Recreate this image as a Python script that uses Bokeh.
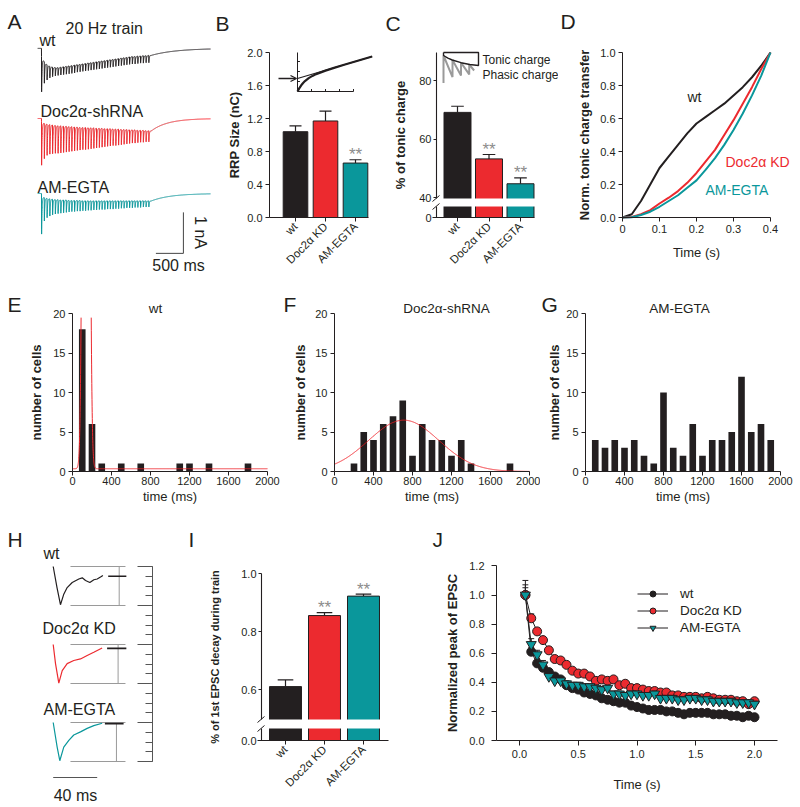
import math
import numpy as np
from bokeh.plotting import figure
from bokeh.layouts import row, column
from bokeh.models import (Range1d, Label, FixedTicker, SingleIntervalTicker, LinearAxis,
                          CustomJSTickFormatter, Arrow, OpenHead, Legend, LegendItem)
from bokeh.core.properties import value
from bokeh.embed import file_html
from bokeh.resources import INLINE

FONT = "Liberation Sans"
INK = "#231f20"
RED = "#ec2a2f"
TEAL = "#0a979b"
STAR = "#8c8c8c"
BOXGRAY = "#9a9a9a"

# ------------------------------------------------------------------ data
CATS = ["wt", "Doc2α KD", "AM-EGTA"]
BAR_COLORS = [INK, RED, TEAL]

# A: 20 Hz train, 40 stimuli; EPSC peak depth and tonic (between-stimulus) level, nA
A_STIM_MS = 50
A_WT_PEAK = [1.06, 0.85, 0.77, 0.72, 0.69, 0.67, 0.66, 0.65, 0.64, 0.63, 0.62, 0.61, 0.60, 0.58, 0.57, 0.56, 0.55, 0.54, 0.53, 0.52,
             0.51, 0.50, 0.49, 0.48, 0.47, 0.46, 0.45, 0.44, 0.43, 0.42, 0.41, 0.40, 0.39, 0.38, 0.38, 0.37, 0.36, 0.36, 0.35, 0.35]
A_WT_TONIC = [0.20, 0.33, 0.40, 0.44, 0.46, 0.47, 0.47, 0.46, 0.45, 0.44, 0.43, 0.42, 0.41, 0.40, 0.39, 0.38, 0.37, 0.36, 0.35, 0.34,
              0.33, 0.32, 0.31, 0.30, 0.29, 0.28, 0.27, 0.26, 0.25, 0.24, 0.23, 0.22, 0.21, 0.20, 0.20, 0.19, 0.19, 0.18, 0.18, 0.17]
A_RED_PEAK = [1.14, 0.98, 0.90, 0.87, 0.86, 0.85, 0.85, 0.84, 0.83, 0.82, 0.81, 0.80, 0.79, 0.78, 0.77, 0.76, 0.76, 0.75, 0.74, 0.73,
              0.72, 0.71, 0.70, 0.69, 0.68, 0.67, 0.66, 0.66, 0.65, 0.64, 0.63, 0.62, 0.61, 0.60, 0.60, 0.59, 0.58, 0.58, 0.57, 0.57]
A_RED_TONIC = [0.08, 0.12, 0.14, 0.15, 0.16, 0.17, 0.18, 0.18, 0.19, 0.19, 0.20, 0.20, 0.21, 0.21, 0.22, 0.22, 0.22, 0.23, 0.23, 0.23,
               0.24, 0.24, 0.24, 0.25, 0.25, 0.25, 0.26, 0.26, 0.26, 0.27, 0.27, 0.27, 0.28, 0.28, 0.28, 0.29, 0.29, 0.29, 0.30, 0.30]
A_TEAL_PEAK = [0.99, 0.67, 0.59, 0.55, 0.52, 0.50, 0.49, 0.48, 0.47, 0.46, 0.45, 0.44, 0.44, 0.43, 0.43, 0.42, 0.42, 0.41, 0.41, 0.40,
               0.40, 0.39, 0.39, 0.39, 0.38, 0.38, 0.38, 0.37, 0.37, 0.36, 0.36, 0.35, 0.35, 0.35, 0.34, 0.34, 0.34, 0.33, 0.33, 0.33]
A_TEAL_TONIC = [0.06, 0.10, 0.12, 0.13, 0.14, 0.15, 0.15, 0.16, 0.16, 0.16, 0.17, 0.17, 0.17, 0.17, 0.17, 0.18, 0.18, 0.18, 0.18, 0.18,
                0.18, 0.18, 0.18, 0.18, 0.18, 0.18, 0.18, 0.18, 0.18, 0.18, 0.18, 0.18, 0.18, 0.18, 0.18, 0.18, 0.18, 0.18, 0.18, 0.18]
A_POST_TAU = [450, 300, 350]
A_OFFSETS = [5.54, 3.83, 2.0]
A_SCALE_T_END = 2580
A_SCALE_Y = 0.54

# B: RRP size (nC)
RRP_MEAN = [1.04, 1.17, 0.66]
RRP_SEM = [0.07, 0.12, 0.04]
RRP_SIG = ["", "", "**"]
INSET_N = [0, 1, 2, 3, 4, 6, 8, 10, 15, 20, 25, 30, 35, 40]
INSET_CUM = [0, 0.34, 0.62, 0.85, 1.04, 1.34, 1.56, 1.74, 2.09, 2.39, 2.67, 2.95, 3.23, 3.5]
INSET_FIT_N = [0, 40]
INSET_FIT = [1.3, 3.5]

# C: % tonic charge
TONIC_MEAN = [69.1, 53.2, 44.7]
TONIC_SEM = [2.1, 1.5, 2.0]
TONIC_SIG = ["", "**", "**"]
C_TONIC_X = [0, 0.5, 1, 2, 3, 4]
C_TONIC_Y = [0.90, 0.81, 0.75, 0.66, 0.60, 0.567]
C_PHASIC_X = [0, 0, 1.03, 1.03, 2.0, 2.0, 2.94, 2.94, 3.5]
C_PHASIC_Y = [-0.02, 0.90, 0.18, 0.75, 0.23, 0.66, 0.27, 0.60, 0.40]

# D: normalized tonic charge transfer
D_TIME = [0, 0.025, 0.05, 0.075, 0.1, 0.125, 0.15, 0.175, 0.2, 0.225, 0.25, 0.275, 0.3, 0.325, 0.35, 0.375, 0.4]
D_WT = [0, 0.02, 0.10, 0.20, 0.30, 0.37, 0.44, 0.51, 0.57, 0.61, 0.65, 0.69, 0.74, 0.79, 0.85, 0.92, 1.0]
D_KD = [0, 0.003, 0.02, 0.045, 0.085, 0.12, 0.16, 0.21, 0.27, 0.34, 0.41, 0.50, 0.59, 0.69, 0.79, 0.90, 1.0]
D_EGTA = [0, 0.002, 0.015, 0.035, 0.065, 0.10, 0.135, 0.18, 0.225, 0.29, 0.36, 0.44, 0.53, 0.63, 0.74, 0.86, 1.0]

# E, F, G: histograms (number of cells vs time, ms)
E_BINS = [100, 200, 300, 500, 700, 1100, 1200, 1400, 1800]
E_COUNTS = [18, 6, 1, 1, 1, 1, 1, 1, 1]
E_FIT = dict(amp=200.0, mu=140.0, sigma=24.0, base=0.35)
F_BINS = [200, 300, 400, 500, 600, 700, 800, 900, 1000, 1100, 1200, 1300, 1400, 1800]
F_COUNTS = [1, 5, 4, 6, 7, 9, 2, 6, 4, 4, 2, 4, 1, 1]
F_FIT = dict(amp=6.5, mu=710.0, sigma=360.0, base=0.0)
G_BINS = [100, 200, 300, 400, 500, 600, 700, 800, 900, 1000, 1100, 1200, 1300, 1400, 1500, 1600, 1700, 1800, 1900]
G_COUNTS = [4, 3, 4, 3, 4, 2, 1, 10, 3, 2, 6, 2, 4, 4, 5, 12, 5, 6, 4]
HIST_XTICKS = [0, 400, 800, 1200, 1600, 2000]
HIST_YTICKS = [0, 5, 10, 15, 20]

# H: normalized first EPSCs (time ms, fraction of peak)
H_WT_T = [0, 3.5, 6.6, 9.5, 12.7, 17.3, 23.3, 26.4, 29.4, 33.3, 37, 40, 43, 45.2]
H_WT_Y = [0, -0.55, -0.98, -0.72, -0.54, -0.41, -0.32, -0.29, -0.36, -0.41, -0.34, -0.32, -0.27, -0.23]
H_KD_T = [0, 2.1, 5.1, 8.2, 12.7, 18.7, 24.8, 30.9, 36.9, 44.5]
H_KD_Y = [0, -0.49, -0.99, -0.67, -0.49, -0.41, -0.37, -0.28, -0.20, -0.09]
H_EG_T = [0, 3.6, 6, 9.6, 14.2, 18.7, 24.8, 30.9, 36.9, 44.5]
H_EG_Y = [0, -0.63, -0.98, -0.63, -0.46, -0.32, -0.24, -0.15, -0.08, -0.02]
H_OFFSETS = [0, -2, -4]
H_END_LEVEL = [-0.25, -0.10, -0.03]

# I: % of 1st EPSC decay during train
DECAY_MEAN = [0.61, 0.855, 0.922]
DECAY_SEM = [0.023, 0.01, 0.007]
DECAY_SIG = ["", "**", "**"]

# J: normalized EPSC peak during the train
J_T = [0.05, 0.10, 0.15, 0.20, 0.25, 0.30, 0.35, 0.40, 0.45, 0.50, 0.55, 0.60, 0.65, 0.70, 0.75, 0.80, 0.85, 0.90, 0.95, 1.00,
       1.05, 1.10, 1.15, 1.20, 1.25, 1.30, 1.35, 1.40, 1.45, 1.50, 1.55, 1.60, 1.65, 1.70, 1.75, 1.80, 1.85, 1.90, 1.95, 2.00]
J_WT = [1.0, 0.61, 0.53, 0.50, 0.47, 0.44, 0.42, 0.38, 0.36, 0.35, 0.33, 0.32, 0.31, 0.29, 0.28, 0.27, 0.26, 0.26, 0.24, 0.23,
        0.22, 0.21, 0.21, 0.21, 0.20, 0.20, 0.19, 0.18, 0.19, 0.19, 0.19, 0.19, 0.18, 0.18, 0.18, 0.17, 0.17, 0.16, 0.17, 0.16]
J_KD = [1.0, 0.84, 0.75, 0.69, 0.62, 0.56, 0.55, 0.52, 0.48, 0.46, 0.46, 0.44, 0.41, 0.42, 0.41, 0.42, 0.38, 0.39, 0.36, 0.36,
        0.35, 0.34, 0.34, 0.33, 0.33, 0.31, 0.31, 0.30, 0.30, 0.30, 0.29, 0.30, 0.29, 0.28, 0.28, 0.28, 0.27, 0.27, 0.25, 0.27]
J_EG = [1.0, 0.66, 0.59, 0.52, 0.44, 0.41, 0.41, 0.39, 0.38, 0.38, 0.37, 0.37, 0.36, 0.35, 0.36, 0.32, 0.32, 0.31, 0.32, 0.32,
        0.31, 0.31, 0.32, 0.29, 0.29, 0.29, 0.28, 0.28, 0.29, 0.29, 0.28, 0.28, 0.27, 0.27, 0.27, 0.27, 0.26, 0.26, 0.26, 0.25]
J_WT_ERR = [0.07, 0.03, 0.03, 0.02, 0.02, 0.02, 0.02, 0.02, 0.02, 0.02, 0.02, 0.02, 0.02, 0.02, 0.02, 0.02, 0.02, 0.02, 0.02, 0.02,
            0.02, 0.02, 0.02, 0.02, 0.02, 0.02, 0.02, 0.02, 0.02, 0.02, 0.02, 0.02, 0.02, 0.02, 0.02, 0.02, 0.02, 0.02, 0.02, 0.02]
J_KD_ERR = [0.05, 0.03, 0.02, 0.02, 0.02, 0.02, 0.02, 0.02, 0.02, 0.02, 0.02, 0.02, 0.02, 0.02, 0.02, 0.02, 0.02, 0.02, 0.02, 0.02,
            0.02, 0.02, 0.02, 0.02, 0.02, 0.02, 0.02, 0.02, 0.02, 0.02, 0.02, 0.02, 0.02, 0.02, 0.02, 0.02, 0.02, 0.02, 0.02, 0.02]
J_EG_ERR = [0.10, 0.04, 0.03, 0.03, 0.02, 0.02, 0.02, 0.02, 0.02, 0.02, 0.02, 0.02, 0.02, 0.02, 0.02, 0.02, 0.02, 0.02, 0.02, 0.02,
            0.02, 0.02, 0.02, 0.02, 0.02, 0.02, 0.02, 0.02, 0.02, 0.02, 0.02, 0.02, 0.02, 0.02, 0.02, 0.02, 0.02, 0.02, 0.02, 0.02]

BASELINE_NUDGE = 4  # px: Bokeh's alphabetic baseline sits slightly lower than the requested point


# ------------------------------------------------------------------ helpers
class Panel:
    """A figure whose plotting frame covers the whole figure box (page px).
    Data scales are anchored by two (pixel, value) pairs per axis."""

    def __init__(self, box, xa, ya):
        self.l, self.r, self.t, self.b = box
        pxa, va, pxb, vb = xa
        self.kx = (vb - va) / (pxb - pxa)
        self.xa = (pxa, va)
        pya, wa, pyb, wb = ya
        self.ky = (wb - wa) / (pyb - pya)
        self.ya = (pya, wa)
        self.x0, self.x1 = self.dx(self.l), self.dx(self.r)
        self.y0, self.y1 = self.dy(self.b), self.dy(self.t)

    def dx(self, px):
        return self.xa[1] + (px - self.xa[0]) * self.kx

    def dy(self, py):
        return self.ya[1] + (py - self.ya[0]) * self.ky

    def sx(self, n):
        return n * self.kx

    def sy(self, n):
        return -n * self.ky


def make_fig(P):
    p = figure(width=P.r - P.l, height=P.b - P.t,
               x_range=Range1d(P.x0, P.x1), y_range=Range1d(P.y0, P.y1),
               toolbar_location=None, output_backend="svg", title=None,
               x_axis_location=None, y_axis_location=None,
               min_border=0, min_border_left=0, min_border_right=0,
               min_border_top=0, min_border_bottom=0)
    p.outline_line_color = None
    p.grid.visible = False
    p.background_fill_color = "white"
    p.border_fill_color = "white"
    return p


def add_axis(p, side, loc, bounds, ticks, fmt=None, label=None, tick_out=4, standoff=3,
             label_standoff=5, tick_size="11px", label_size="13px", bold=True):
    ax = LinearAxis(fixed_location=loc, bounds=bounds, ticker=FixedTicker(ticks=ticks))
    if fmt is not None:
        ax.formatter = CustomJSTickFormatter(code=fmt)
    ax.axis_line_color = INK
    ax.axis_line_width = 1
    ax.major_tick_line_color = INK
    ax.major_tick_in = 0
    ax.major_tick_out = tick_out
    ax.minor_tick_line_color = None
    ax.major_label_text_font = FONT
    ax.major_label_text_font_size = tick_size
    ax.major_label_text_color = INK
    ax.major_label_standoff = standoff
    if label:
        ax.axis_label = label
        ax.axis_label_text_font = FONT
        ax.axis_label_text_font_size = label_size
        ax.axis_label_text_color = INK
        ax.axis_label_text_font_style = "bold" if bold else "normal"
        ax.axis_label_standoff = label_standoff
    p.add_layout(ax, side)
    return ax


def txt(p, P, px, py, text, size, color=INK, align="left", baseline="alphabetic", angle=0.0):
    if baseline == "alphabetic":
        py = py - BASELINE_NUDGE
    p.add_layout(Label(x=P.dx(px), y=P.dy(py), text=text, text_font=FONT,
                       text_font_size=f"{size}px", text_color=color, text_align=align,
                       text_baseline=baseline, angle=angle))


def bars(p, P, means, sems, sigs, width, bottom, cap_half, scale=1.0):
    xs = [1, 2, 3]
    tops = [m * scale for m in means]
    etops = [(m + s) * scale for m, s in zip(means, sems)]
    p.vbar(x=xs, top=tops, bottom=bottom, width=width, fill_color=BAR_COLORS, line_color=INK, line_width=1)
    p.segment(x0=xs, y0=tops, x1=xs, y1=etops, line_color=INK, line_width=1.2)
    p.segment(x0=[x - cap_half for x in xs], y0=etops, x1=[x + cap_half for x in xs], y1=etops,
              line_color=INK, line_width=1.2)
    for x, e, s in zip(xs, etops, sigs):
        if s:
            p.add_layout(Label(x=x, y=e + P.sy(1 + BASELINE_NUDGE), text=s, text_font=FONT,
                               text_font_size="17px", text_color=STAR, text_align="center",
                               text_baseline="alphabetic"))


def cat_axis(p, P, y_loc, px_l, px_r):
    ax = add_axis(p, "below", y_loc, (P.dx(px_l), P.dx(px_r)), [1, 2, 3], tick_size="11.5px")
    ax.major_label_overrides = {i + 1: c for i, c in enumerate(CATS)}
    ax.major_label_orientation = math.pi / 4
    return ax


def broken_line(p, P, px_line, z_bottom, z_top, gap_lo, gap_hi):
    x_line = P.dx(px_line)
    p.quad(left=[x_line + P.sx(0.6)], right=[P.x1], bottom=[gap_lo], top=[gap_hi],
           fill_color="white", line_color=None)
    p.segment(x0=[x_line, x_line], y0=[z_bottom, gap_hi], x1=[x_line, x_line], y1=[gap_lo, z_top],
              line_color=INK, line_width=1.1)
    for yy in (gap_lo, gap_hi):
        p.segment(x0=[x_line - P.sx(4)], y0=[yy - P.sy(3)], x1=[x_line + P.sx(3)], y1=[yy + P.sy(3)],
                  line_color=INK, line_width=1)


# ------------------------------------------------------------------ A
PA = Panel((0, 212, 0, 275), (41, 0, 96, 1000), (275, 0, 234, 1.0))
pa = make_fig(PA)
t_a = np.arange(-70.0, 3075.0, 1.0)


def synth(peaks, tonic, post_tau):
    depth = np.zeros_like(t_a)
    n = len(peaks)
    for i in range(n):
        t0 = i * A_STIM_MS
        m = (t_a >= t0) & (t_a < t0 + A_STIM_MS)
        dt = t_a[m] - t0
        k = (1 - np.exp(-dt / 0.8)) * np.exp(-dt / 8.0)
        k = k / k.max()
        nxt = tonic[min(i + 1, n - 1)]
        tn = tonic[i] + (nxt - tonic[i]) * dt / A_STIM_MS
        depth[m] = tn + (peaks[i] - tn) * k
    t_end = n * A_STIM_MS
    m = t_a >= t_end
    depth[m] = tonic[-1] * np.exp(-(t_a[m] - t_end) / post_tau)
    return -depth


for peaks, tonic, tau, off, col in zip([A_WT_PEAK, A_RED_PEAK, A_TEAL_PEAK],
                                       [A_WT_TONIC, A_RED_TONIC, A_TEAL_TONIC],
                                       A_POST_TAU, A_OFFSETS, [INK, RED, TEAL]):
    pa.line(t_a, synth(peaks, tonic, tau) + off, line_color=col, line_width=1)

pa.line([A_SCALE_T_END - 500, A_SCALE_T_END, A_SCALE_T_END], [A_SCALE_Y, A_SCALE_Y, A_SCALE_Y + 1.0],
        line_color="#444444", line_width=1)
txt(pa, PA, 7, 25, "A", 21)
txt(pa, PA, 65, 32, "20 Hz train", 16)
txt(pa, PA, 39, 44, "wt", 16)
txt(pa, PA, 40, 115, "Doc2α-shRNA", 16)
txt(pa, PA, 37, 191, "AM-EGTA", 16)
txt(pa, PA, 200, 232, "1 nA", 16, align="center", baseline="middle", angle=-math.pi / 2)
txt(pa, PA, 178, 269, "500 ms", 16, align="center")

# ------------------------------------------------------------------ B
PB = Panel((212, 383, 0, 275), (295, 1, 325, 2), (217, 0.0, 52, 2.0))
pb = make_fig(PB)
bars(pb, PB, RRP_MEAN, RRP_SEM, RRP_SIG, 0.82, 0, 0.2)
add_axis(pb, "left", PB.dx(269), (0, 2.0), [0, 0.4, 0.8, 1.2, 1.6, 2.0], fmt="return tick.toFixed(1);",
         label="RRP Size (nC)", label_standoff=2)
cat_axis(pb, PB, 0.0, 269, 368)


def inset_b(xi, yi):
    return ([PB.dx(297 + v * 56 / 30) for v in xi], [PB.dy(91 - v * 10) for v in yi])


ix, iy = inset_b([0, 0, 30], [3.9, 0, 0])
pb.line(ix, iy, line_color=INK, line_width=1)
for k in (7.5, 15, 22.5, 30):
    a, b = inset_b([k, k], [0, 0.25])
    pb.line(a, b, line_color=INK, line_width=1)
for k in (1, 2, 3):
    a, b = inset_b([0, 1.3], [k, k])
    pb.line(a, b, line_color=INK, line_width=1)
ix, iy = inset_b(INSET_N, INSET_CUM)
pb.line(ix, iy, line_color=INK, line_width=2.2)
ix, iy = inset_b(INSET_FIT_N, INSET_FIT)
pb.line(ix, iy, line_color=INK, line_width=1.3)
pb.add_layout(Arrow(end=OpenHead(size=6, line_color=INK, line_width=1.3),
                    x_start=PB.dx(278), y_start=PB.dy(78), x_end=PB.dx(296), y_end=PB.dy(78),
                    line_color=INK, line_width=1.3))
txt(pb, PB, 215, 27, "B", 21)

# ------------------------------------------------------------------ C
PC = Panel((383, 558, 0, 275), (457, 1, 488.5, 2), (197, 40, 80, 80))
pc = make_fig(PC)
C_Z0 = PC.dy(217)
C_ZTOP = PC.dy(52)
bars(pc, PC, TONIC_MEAN, TONIC_SEM, TONIC_SIG, 0.857, C_Z0, 0.2)
broken_line(pc, PC, 436, C_Z0, C_ZTOP, PC.dy(206), PC.dy(198))
ax = add_axis(pc, "left", PC.dx(436), (C_Z0, C_ZTOP), [C_Z0, 40, 60, 80],
              fmt="return tick < 39 ? '0' : tick.toFixed(0);", label="% of tonic charge",
              tick_out=3, standoff=2, label_standoff=8)
ax.axis_line_color = None
cat_axis(pc, PC, C_Z0, 432, 534)


def inset_c(xi, yi):
    return ([PC.dx(443 + v * 8.75) for v in xi], [PC.dy(82 - v * 30) for v in yi])


ix, iy = inset_c(C_PHASIC_X, C_PHASIC_Y)
pc.line(ix, iy, line_color=BOXGRAY, line_width=2)
ix, iy = inset_c([0, 4, 4] + C_TONIC_X[::-1] + [0], [1, 1, C_TONIC_Y[-1]] + C_TONIC_Y[::-1] + [1])
pc.line(ix, iy, line_color=INK, line_width=1.4)
txt(pc, PC, 482, 63, "Tonic charge", 12)
txt(pc, PC, 482, 78, "Phasic charge", 12)
txt(pc, PC, 385, 27, "C", 21)

# ------------------------------------------------------------------ D
PD = Panel((558, 800, 0, 275), (622, 0.0, 770, 0.4), (217, 0.0, 52, 1.0))
pd = make_fig(PD)
pd.line(D_TIME, D_WT, line_color=INK, line_width=2)
pd.line(D_TIME, D_KD, line_color=RED, line_width=2)
pd.line(D_TIME, D_EGTA, line_color=TEAL, line_width=2)
add_axis(pd, "below", 0.0, (0, 0.4), [0, 0.1, 0.2, 0.3, 0.4],
         fmt="return Math.abs(tick) < 1e-9 ? '0' : tick.toFixed(1);", label="Time (s)",
         label_standoff=9, bold=False)
add_axis(pd, "left", 0.0, (0, 1.0), [0, 0.2, 0.4, 0.6, 0.8, 1.0], fmt="return tick.toFixed(1);",
         label="Norm. tonic charge transfer", label_standoff=5)
txt(pd, PD, 687, 100, "wt", 14)
txt(pd, PD, 725, 165, "Doc2α KD", 14, color=RED)
txt(pd, PD, 705, 193, "AM-EGTA", 14, color=TEAL)
txt(pd, PD, 560, 25, "D", 21)


# ------------------------------------------------------------------ E F G
def hist_panel(box, px_zero, bins, counts, fit, title, title_cx, letter, letter_x, ylab_standoff):
    P = Panel(box, (px_zero, 0, px_zero + 195, 2000), (471, 0, 313, 20))
    p = make_fig(P)
    p.vbar(x=bins, top=counts, width=68, fill_color=INK, line_color=None)
    if fit is not None:
        tt = np.linspace(0, 2000, 2001)
        yy = fit["base"] + fit["amp"] * np.exp(-((tt - fit["mu"]) ** 2) / (2 * fit["sigma"] ** 2))
        yy = np.where(yy > 21.2, np.nan, yy)
        p.line(tt, yy, line_color=RED, line_width=1)
    add_axis(p, "below", 0, (0, 2000), HIST_XTICKS, label="time (ms)", standoff=1, label_standoff=1, bold=False)
    add_axis(p, "left", 0, (0, 20), HIST_YTICKS, label="number of cells", label_standoff=ylab_standoff)
    txt(p, P, title_cx, 312, title, 13.5, align="center")
    txt(p, P, letter_x, 308, letter, 21)
    return p


pe = hist_panel((0, 280, 275, 520), 72, E_BINS, E_COUNTS, E_FIT, "wt", 155, "E", 7, 6)
pf = hist_panel((280, 540, 275, 520), 334, F_BINS, F_COUNTS, F_FIT, "Doc2α-shRNA", 446, "F", 283, 4)
pg = hist_panel((540, 800, 275, 520), 585, G_BINS, G_COUNTS, None, "AM-EGTA", 679, "G", 541, 1)

# ------------------------------------------------------------------ H
PH = Panel((0, 185, 520, 807), (52.7, 0, 96.7, 40), (566, 0, 605, -1))
ph = make_fig(PH)
ruler = LinearAxis(fixed_location=PH.dx(152), bounds=(-5, 0),
                   ticker=SingleIntervalTicker(interval=1, num_minor_ticks=4),
                   major_tick_in=15, major_tick_out=0, minor_tick_in=7, minor_tick_out=0,
                   major_label_text_color=None, axis_line_color="#555555",
                   major_tick_line_color="#555555", minor_tick_line_color="#555555")
ph.add_layout(ruler, "right")
H_BOX_T = [15.7, 65.7]
H_VLINE_T = [60.0, 59.0, 57.5]
H_END_T = [[50.0, 66.5], [49.0, 66.5], [47.0, 64.0]]
for off, ts, ys, col, tv, te, lvl in zip(H_OFFSETS, [H_WT_T, H_KD_T, H_EG_T], [H_WT_Y, H_KD_Y, H_EG_Y],
                                          [INK, RED, TEAL], H_VLINE_T, H_END_T, H_END_LEVEL):
    ph.line(H_BOX_T, [off, off], line_color=BOXGRAY, line_width=1)
    ph.line(H_BOX_T, [off - 1, off - 1], line_color=BOXGRAY, line_width=1)
    ph.line([tv, tv], [off, off - 1], line_color=BOXGRAY, line_width=1)
    ph.line(ts, [off + v for v in ys], line_color=col, line_width=1.2)
    ph.line(te, [off + lvl, off + lvl], line_color=INK, line_width=1.6)
ph.line([0, 40], [PH.dy(777), PH.dy(777)], line_color="#555555", line_width=1)
txt(ph, PH, 75, 799, "40 ms", 16, align="center")
txt(ph, PH, 43, 557, "wt", 16)
txt(ph, PH, 42, 632, "Doc2α KD", 16)
txt(ph, PH, 43, 713, "AM-EGTA", 16)
txt(ph, PH, 7, 543, "H", 21)

# ------------------------------------------------------------------ I
PI = Panel((185, 420, 520, 807), (285, 1, 324, 2), (689, 60, 573, 100))
pi_ = make_fig(PI)
I_Z0 = PI.dy(740)
bars(pi_, PI, DECAY_MEAN, DECAY_SEM, DECAY_SIG, 0.82, I_Z0, 0.2, scale=100)
broken_line(pi_, PI, 261, I_Z0, 100, PI.dy(728), PI.dy(719))
ax = add_axis(pi_, "left", PI.dx(261), (I_Z0, 100), [I_Z0, 60, 80, 100],
              fmt="return tick < 50 ? '0.0' : (tick / 100).toFixed(1);",
              label="% of 1st EPSC decay during train", tick_out=3, standoff=2,
              label_standoff=17, label_size="11px")
ax.axis_line_color = None
cat_axis(pi_, PI, I_Z0, 257, 388)
txt(pi_, PI, 188, 543, "I", 21)

# ------------------------------------------------------------------ J
PJ = Panel((420, 800, 520, 807), (519, 0.0, 754, 2.0), (740, 0.0, 594.5, 1.0))
pj = make_fig(PJ)
items = []
for ys, errs, fill, marker, size, name in [(J_WT, J_WT_ERR, INK, "circle", 9, "wt"),
                                           (J_KD, J_KD_ERR, RED, "circle", 9, "Doc2α KD"),
                                           (J_EG, J_EG_ERR, TEAL, "inverted_triangle", 10, "AM-EGTA")]:
    tops = [y + e for y, e in zip(ys, errs)]
    pj.segment(x0=J_T, y0=ys, x1=J_T, y1=tops, line_color=INK, line_width=1)
    pj.segment(x0=[t - 0.025 for t in J_T], y0=tops, x1=[t + 0.025 for t in J_T], y1=tops,
               line_color=INK, line_width=1)
    ln = pj.line(J_T, ys, line_color=INK, line_width=1)
    sc = pj.scatter(J_T, ys, marker=marker, size=size, fill_color=fill, line_color=INK, line_width=1)
    items.append(LegendItem(label=name, renderers=[ln, sc]))
add_axis(pj, "below", 0.0, (PJ.dx(496), PJ.dx(777)), [0, 0.5, 1.0, 1.5, 2.0], fmt="return tick.toFixed(1);",
         label="Time (s)", tick_out=5, standoff=4, label_standoff=16, bold=False)
add_axis(pj, "left", PJ.dx(496), (0, 1.2), [0, 0.2, 0.4, 0.6, 0.8, 1.0, 1.2], fmt="return tick.toFixed(1);",
         label="Normalized peak of EPSC", tick_out=5, standoff=7, label_standoff=6)
legend = Legend(items=items, location=(217, 172), padding=0, margin=0, spacing=2,
                glyph_height=15, glyph_width=31, label_height=15, label_standoff=12,
                label_text_font=FONT, label_text_font_size="13.5px", label_text_color=INK,
                border_line_color=None, background_fill_alpha=0)
pj.add_layout(legend)
txt(pj, PJ, 432, 543, "J", 21)

# ------------------------------------------------------------------ layout
layout = column(row(pa, pb, pc, pd), row(pe, pf, pg), row(ph, pi_, pj))
open("out.html", "w").write(file_html(layout, INLINE))
